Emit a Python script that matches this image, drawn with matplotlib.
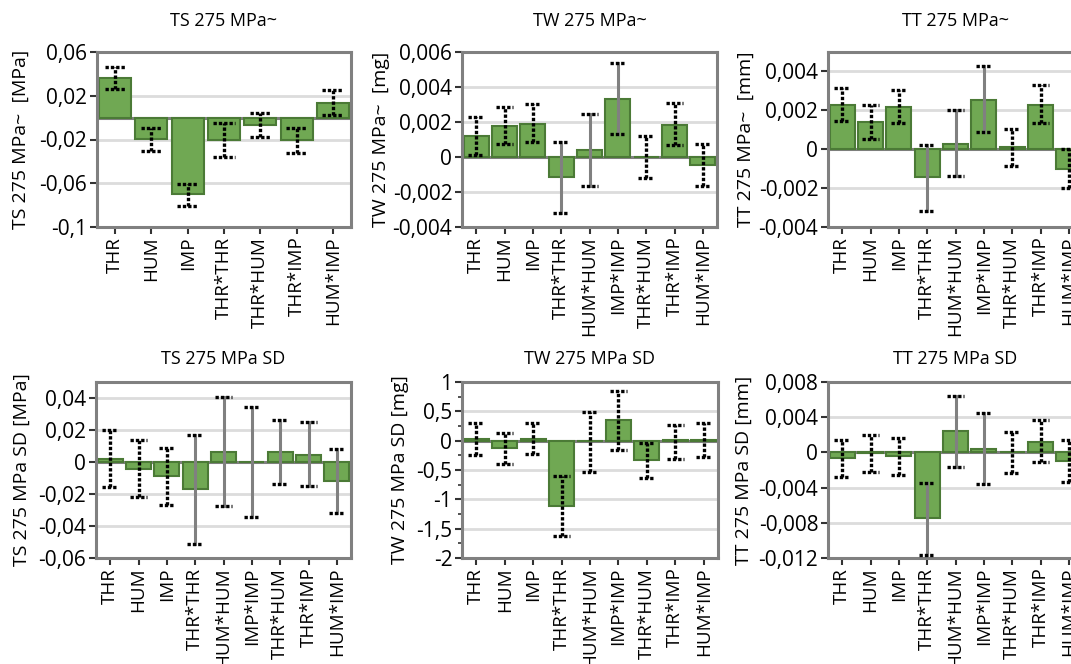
import matplotlib
matplotlib.use("Agg")
import matplotlib.pyplot as plt
from matplotlib.ticker import FixedLocator, FuncFormatter

plt.rcParams["font.family"] = ["Open Sans", "DejaVu Sans"]
plt.rcParams["font.size"] = 14

terms7 = ["THR", "HUM", "IMP", "THR*THR", "THR*HUM", "THR*IMP", "HUM*IMP"]
terms9 = ["THR", "HUM", "IMP", "THR*THR", "HUM*HUM", "IMP*IMP", "THR*HUM", "THR*IMP", "HUM*IMP"]

# TS 275 MPa~ (7 terms)
ts_avg = [0.0359, -0.0198, -0.0700, -0.0204, -0.0067, -0.0204, 0.0131]
ts_avg_lo = [0.0262, -0.0301, -0.0806, -0.0362, -0.0179, -0.0325, 0.0024]
ts_avg_hi = [0.0465, -0.0097, -0.0605, -0.0049, 0.0046, -0.0097, 0.0249]

# TW 275 MPa~
tw_avg = [0.00118, 0.00178, 0.00190, -0.00116, 0.00038, 0.00334, 0.0, 0.00184, -0.00045]
tw_avg_lo = [0.00013, 0.00074, 0.00085, -0.00322, -0.00165, 0.00129, -0.00118, 0.00068, -0.00165]
tw_avg_hi = [0.00227, 0.00288, 0.00301, 0.00085, 0.00243, 0.00540, 0.00118, 0.00309, 0.00074]

# TT 275 MPa~
tt_avg = [0.00228, 0.00138, 0.00219, -0.00145, 0.00028, 0.00253, 0.00009, 0.00228, -0.00102]
tt_avg_lo = [0.00143, 0.00055, 0.00134, -0.00316, -0.00136, 0.00088, -0.00088, 0.00134, -0.00200]
tt_avg_hi = [0.00316, 0.00228, 0.00307, 0.00021, 0.00200, 0.00426, 0.00103, 0.00329, 0.00000]

# TS 275 MPa SD
ts_sd = [0.0021, -0.0042, -0.0090, -0.0171, 0.0065, -0.0002, 0.0060, 0.0046, -0.0121]
ts_sd_lo = [-0.0156, -0.0220, -0.0269, -0.0515, -0.0275, -0.0344, -0.0137, -0.0150, -0.0321]
ts_sd_hi = [0.0198, 0.0135, 0.0085, 0.0167, 0.0408, 0.0342, 0.0263, 0.0248, 0.0079]

# TW 275 MPa SD
tw_sd = [0.034, -0.131, 0.034, -1.108, 0.0, 0.347, -0.335, 0.005, 0.003]
tw_sd_lo = [-0.244, -0.392, -0.227, -1.625, -0.534, -0.159, -0.631, -0.307, -0.278]
tw_sd_hi = [0.307, 0.131, 0.307, -0.602, 0.494, 0.847, -0.045, 0.267, 0.301]

# TT 275 MPa SD
tt_sd = [-0.00060, -0.00010, -0.00042, -0.00747, 0.00243, 0.00034, 0.0, 0.00121, -0.00099]
tt_sd_lo = [-0.00277, -0.00220, -0.00258, -0.01164, -0.00163, -0.00364, -0.00235, -0.00110, -0.00337]
tt_sd_hi = [0.00144, 0.00200, 0.00163, -0.00349, 0.00645, 0.00451, 0.00235, 0.00364, 0.00136]

BAR = "#70a853"
EDGE = "#4b7a36"
GREY = "#808080"
GRID = "#dcdcdc"
DOTS = (0, (1.0, 0.6))

W, H = 1071, 664
fig = plt.figure(figsize=(W / 100, H / 100), dpi=100)


def add_panel(box, labels, vals, lo, hi, dotted, ylim, yticks, title, ylabel, label_right,
              title_pad=13, minor=None):
    x0, y0, x1, y1 = box
    ax = fig.add_axes([x0 / W, 1 - y1 / H, (x1 - x0) / W, (y1 - y0) / H])
    x = list(range(len(labels)))
    ax.bar(x, vals, width=0.88, color=BAR, edgecolor=EDGE, linewidth=1.5, zorder=2)
    ax.axhline(0, color=GREY, lw=2.2, zorder=1.8)
    for t in yticks:
        if t != 0 and ylim[0] < t < ylim[1]:
            ax.axhline(t, color=GRID, lw=2, zorder=0)
    cap = 0.29
    for i in x:
        if dotted[i]:
            ax.plot([i, i], [lo[i], hi[i]], color="black", lw=2.4, ls=DOTS, zorder=3)
        else:
            ax.plot([i, i], [lo[i], hi[i]], color=GREY, lw=2.2, zorder=3)
        for yv in (lo[i], hi[i]):
            ax.plot([i - cap, i + cap], [yv, yv], color="black", lw=2.4, ls=DOTS, zorder=3)
    ax.set_xlim(-0.5, len(labels) - 0.5)
    ax.set_ylim(*ylim)
    ax.set_xticks(x)
    ax.set_xticklabels(labels, rotation=90, fontsize=13.5)
    ax.yaxis.set_major_locator(FixedLocator(yticks))
    ax.yaxis.set_major_formatter(FuncFormatter(lambda v, p: f"{round(v, 6):g}".replace(".", ",")))
    if minor is not None:
        ax.yaxis.set_minor_locator(FixedLocator(minor))
        ax.tick_params(axis="y", which="minor", length=3, width=1.2, color="#333333")
    ax.tick_params(axis="both", which="major", length=5, width=1.5, color="#333333", pad=2)
    ax.tick_params(axis="y", labelsize=15)
    for s in ax.spines.values():
        s.set_color(GREY)
        s.set_linewidth(2.2)
    ax.set_title(title, pad=title_pad, fontsize=13)
    ax.set_ylabel(ylabel, fontsize=14)
    ax.yaxis.set_label_coords((label_right - x0) / (x1 - x0), 0.5)
    return ax


dot7 = [True] * 7
dot_q = [True, True, True, False, False, False, True, True, True]
dot_sd_ts = [True, True, True, False, False, False, False, False, False]

add_panel((97, 52, 351, 227), terms7, ts_avg, ts_avg_lo, ts_avg_hi, dot7,
          (-0.1, 0.06), [-0.1, -0.06, -0.02, 0.02, 0.06],
          "TS 275 MPa~", "TS 275 MPa~  [MPa]", 30, title_pad=19)
add_panel((462, 52, 717, 227), terms9, tw_avg, tw_avg_lo, tw_avg_hi, dot_q,
          (-0.004, 0.006), [-0.004, -0.002, 0, 0.002, 0.004, 0.006],
          "TW 275 MPa~", "TW 275 MPa~  [mg]", 390, title_pad=19)
add_panel((828, 52, 1083, 227), terms9, tt_avg, tt_avg_lo, tt_avg_hi, dot_q,
          (-0.004, 0.005), [-0.004, -0.002, 0, 0.002, 0.004],
          "TT 275 MPa~", "TT 275 MPa~  [mm]", 755, title_pad=19)
add_panel((96, 382, 351, 558), terms9, ts_sd, ts_sd_lo, ts_sd_hi, dot_sd_ts,
          (-0.06, 0.05), [-0.06, -0.04, -0.02, 0, 0.02, 0.04],
          "TS 275 MPa SD", "TS 275 MPa SD [MPa]", 31)
add_panel((462, 382, 718, 558), terms9, tw_sd, tw_sd_lo, tw_sd_hi, [True] * 9,
          (-2, 1), [-2, -1.5, -1, -0.5, 0, 0.5, 1],
          "TW 275 MPa SD", "TW 275 MPa SD [mg]", 409,
          minor=[-1.75, -1.25, -0.75, -0.25, 0.25, 0.75])
add_panel((828, 382, 1083, 558), terms9, tt_sd, tt_sd_lo, tt_sd_hi, dot_q,
          (-0.012, 0.008), [-0.012, -0.008, -0.004, 0, 0.004, 0.008],
          "TT 275 MPa SD", "TT 275 MPa SD [mm]", 753)

fig.savefig("out.png", dpi=100)
